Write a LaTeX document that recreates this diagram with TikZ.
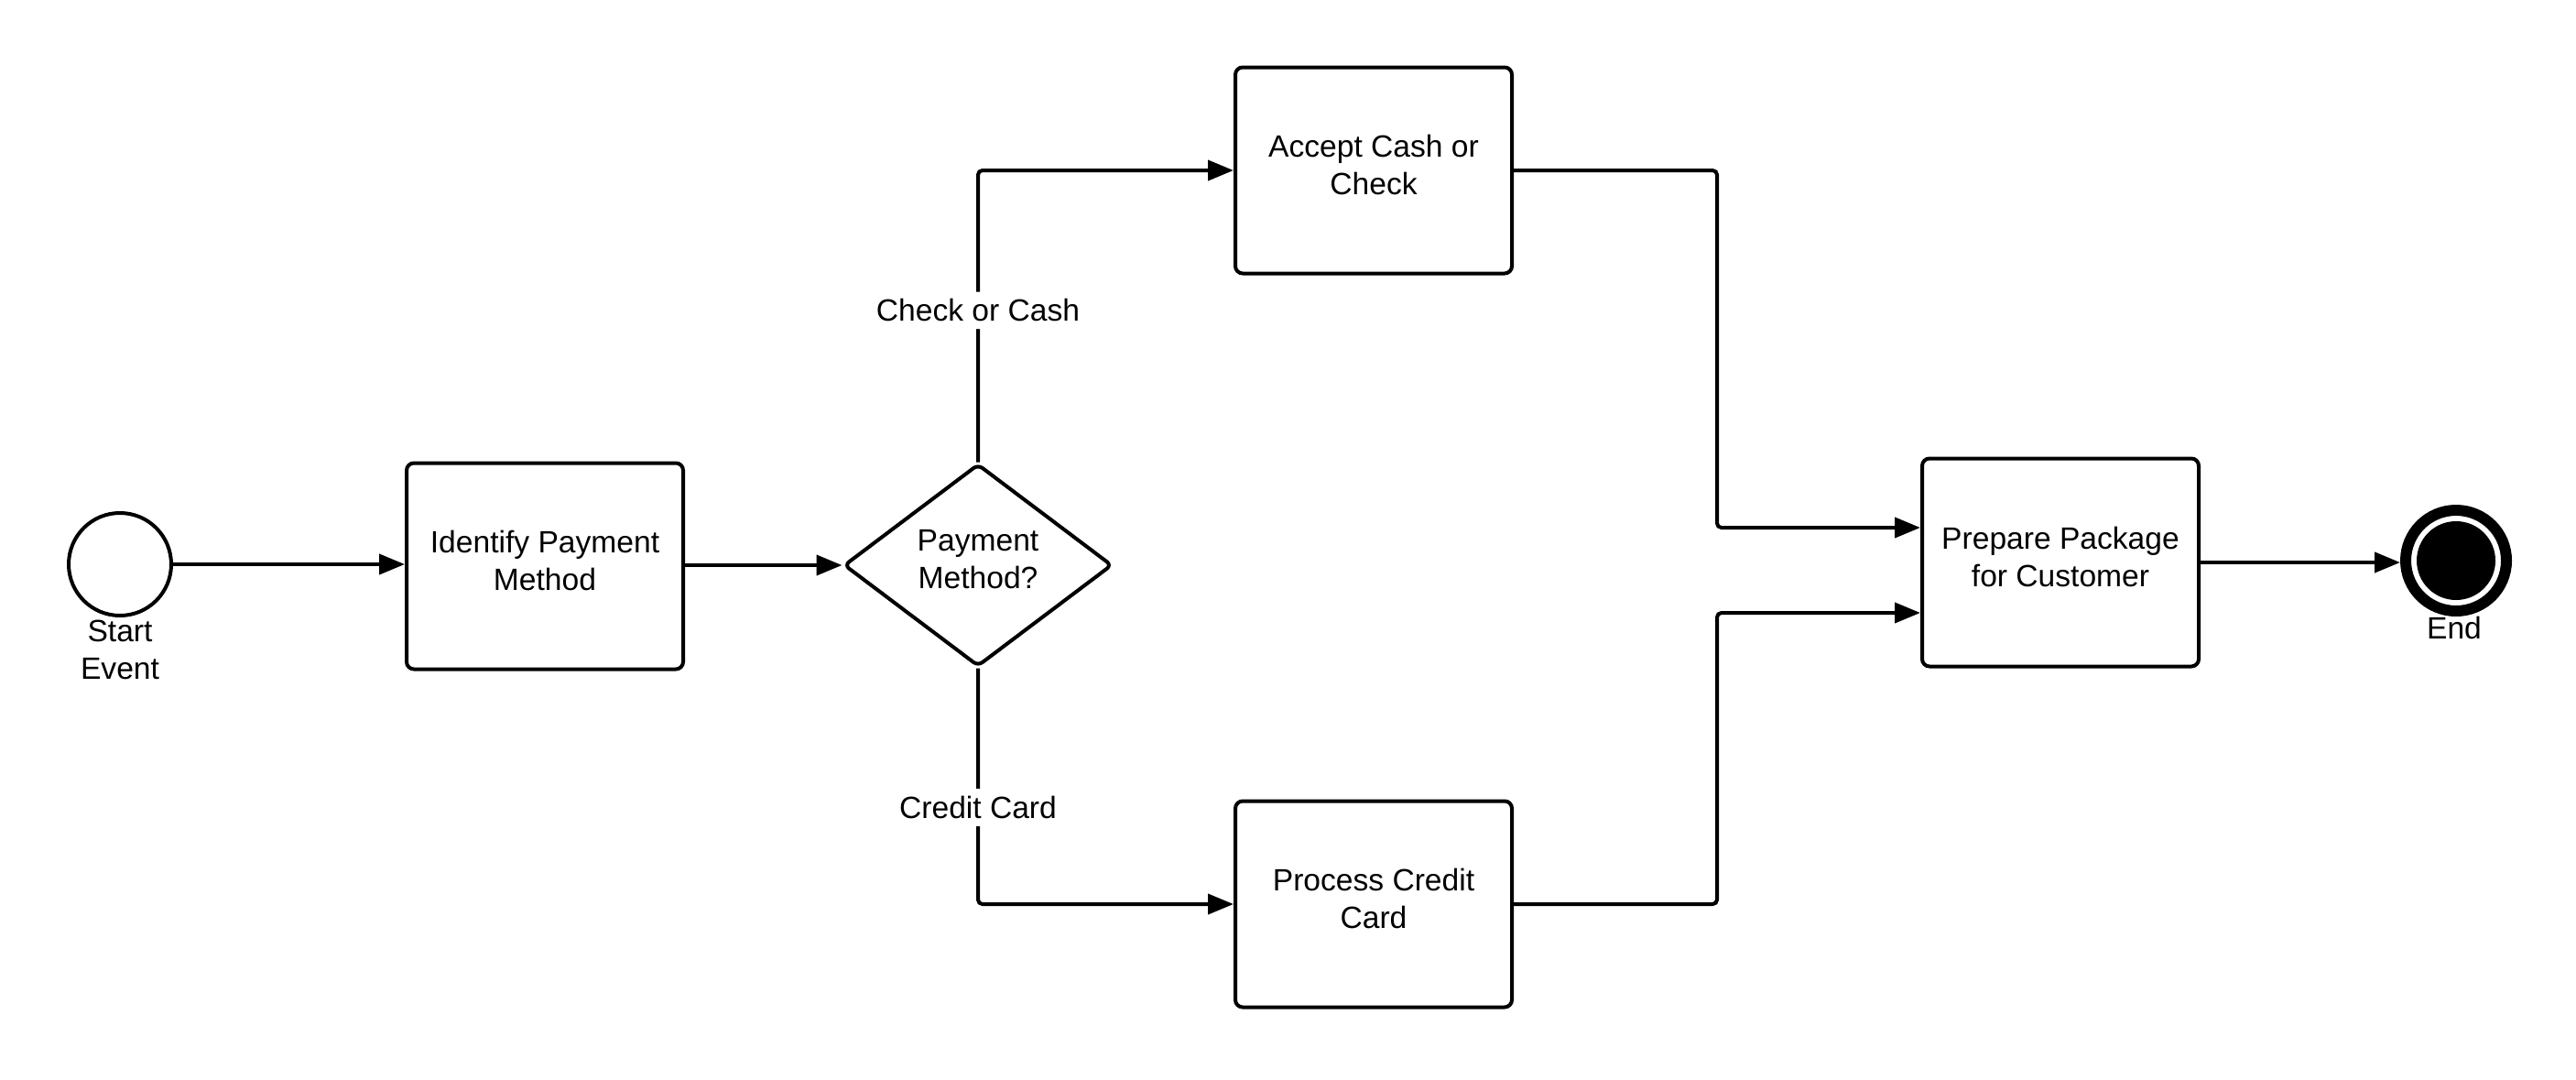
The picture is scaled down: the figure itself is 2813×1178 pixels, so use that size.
\documentclass[tikz,border=0pt]{standalone}
\usepackage{fontspec}
\setmainfont{Liberation Sans}
\usetikzlibrary{arrows.meta,shapes.geometric}
\begin{document}
\begin{tikzpicture}[x=0.25pt,y=-0.25pt,
  every node/.style={font=\fontsize{8.4}{10.3}\selectfont, align=center},
  task/.style={draw, line width=1pt, rounded corners=2pt, minimum width=75.5pt, minimum height=56.25pt, inner sep=0pt, text depth=3.2pt},
  gate/.style={draw, diamond, line width=1pt, rounded corners=1.5pt, minimum width=73.25pt, minimum height=55.25pt, inner sep=0pt, text depth=3.2pt},
  startev/.style={draw, circle, line width=1pt, minimum size=28pt, inner sep=0pt},
  endev/.style={draw, circle, line width=3pt, minimum size=27.5pt, inner sep=0pt},
  evlabel/.style={anchor=north, inner sep=0pt},
  flow/.style={line width=1pt, -{Triangle[length=7pt,width=5.5pt]}, rounded corners=1.2pt},
  flowlabel/.style={fill=white, inner sep=2pt}]
\useasboundingbox (0,0) rectangle (2813,1178);
% nodes
\node[startev] (start) at (131,616) {};
\node[evlabel] (startlbl) at (131,676) {Start\\Event};
\node[task] (ident) at (595,618) {Identify Payment\\Method};
\node[gate] (dia) at (1068,617) {Payment\\Method?};
\node[task] (acc) at (1500,186) {Accept Cash or\\Check};
\node[task] (proc) at (1500,987) {Process Credit\\Card};
\node[task, minimum height=56.75pt] (prep) at (2250,614) {Prepare Package\\for Customer};
\node[endev] (end) at (2682,612) {};
\fill (end.center) circle (10.75pt);
\node[evlabel] (endlbl) at (2680,672) {End};
% helper coordinates
\coordinate (jx) at (1875,0);
\coordinate (in1) at (2099,576);
\coordinate (in2) at (2099,669);
% connectors
\draw[flow] (start) -- (ident.west |- start);
\draw[flow] (ident.east |- dia) -- (dia.west);
\draw[flow] (dia.north) |- node[flowlabel, pos=0.26] (lblcash) {Check or Cash} (acc.west);
\draw[flow] (dia.south) |- node[flowlabel, pos=0.295] (lblcard) {Credit Card} (proc.west);
\draw[flow] (acc.east) -- (acc.east -| jx) -- (jx |- in1) -- (prep.west |- in1);
\draw[flow] (proc.east) -- (proc.east -| jx) -- (jx |- in2) -- (prep.west |- in2);
\draw[flow] (prep.east) -- (end.west |- prep.east);
\end{tikzpicture}
\end{document}
